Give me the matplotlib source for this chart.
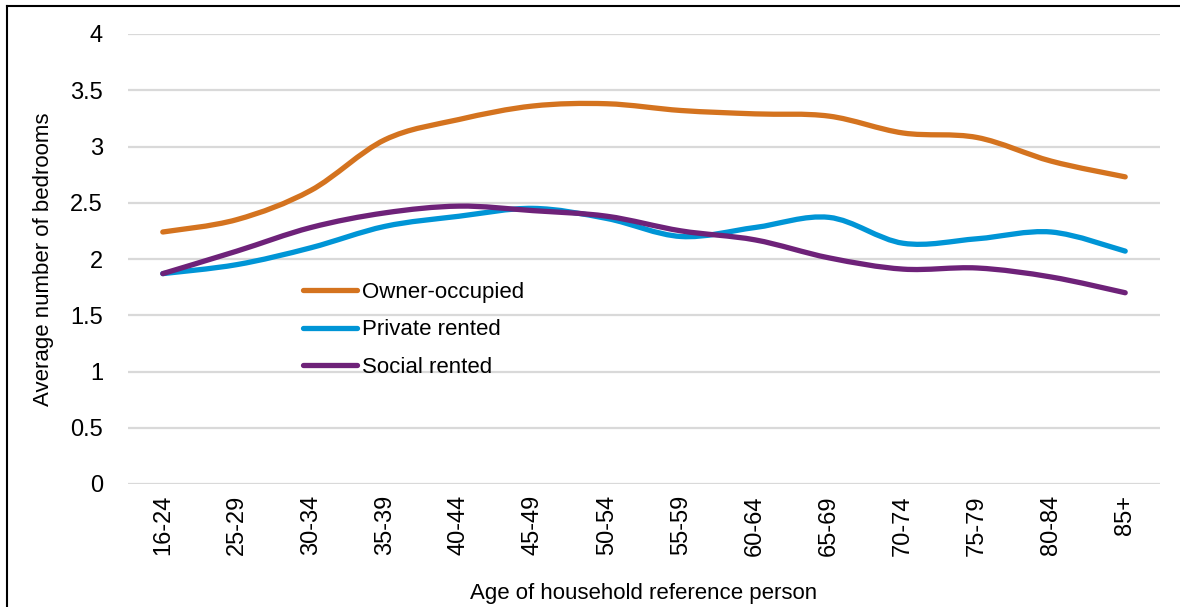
import matplotlib
matplotlib.use('Agg')
import matplotlib.pyplot as plt
from matplotlib.path import Path
from matplotlib.patches import PathPatch
from matplotlib.lines import Line2D
from matplotlib import font_manager
import numpy as np

age_groups = ['16-24', '25-29', '30-34', '35-39', '40-44', '45-49', '50-54',
              '55-59', '60-64', '65-69', '70-74', '75-79', '80-84', '85+']
owner_occupied = [2.24, 2.35, 2.61, 3.06, 3.24, 3.36, 3.38, 3.32, 3.29, 3.27, 3.12, 3.08, 2.87, 2.73]
private_rented = [1.87, 1.95, 2.10, 2.29, 2.38, 2.45, 2.36, 2.20, 2.28, 2.37, 2.14, 2.18, 2.24, 2.07]
social_rented = [1.87, 2.07, 2.28, 2.41, 2.47, 2.43, 2.38, 2.25, 2.17, 2.01, 1.91, 1.92, 1.84, 1.70]

series = [('Owner-occupied', owner_occupied, '#D4731F'),
          ('Private rented', private_rented, '#0095D6'),
          ('Social rented', social_rented, '#6E2279')]

installed = {f.name for f in font_manager.fontManager.ttflist}
fam = [f for f in ['Liberation Sans Narrow', 'Liberation Sans', 'DejaVu Sans'] if f in installed]
plt.rcParams['font.family'] = fam


def smooth_path(xs, ys, k=1.0 / 6):
    # Excel-style smoothed line: cubic Bezier through each point
    pts = np.column_stack([xs, ys]).astype(float)
    n = len(pts)
    verts = [pts[0]]
    codes = [Path.MOVETO]
    for i in range(n - 1):
        p0 = pts[i - 1] if i > 0 else pts[i]
        p1, p2 = pts[i], pts[i + 1]
        p3 = pts[i + 2] if i + 2 < n else pts[i + 1]
        c1 = p1 + (p2 - p0) * k
        c2 = p2 - (p3 - p1) * k
        verts += [c1, c2, p2]
        codes += [Path.CURVE4] * 3
    return Path(verts, codes)


fig = plt.figure(figsize=(11.8, 6.07), dpi=100)
ax = fig.add_axes([128 / 1180, 1 - 484 / 607, 1032 / 1180, 450 / 607])

x = np.arange(len(age_groups))
handles = []
for name, vals, col in series:
    patch = PathPatch(smooth_path(x, vals), facecolor='none', edgecolor=col,
                      linewidth=3.8, capstyle='round', joinstyle='round', zorder=3)
    ax.add_patch(patch)
    handles.append(Line2D([0], [0], color=col, linewidth=3.8, solid_capstyle='round', label=name))

ax.set_xlim(-0.47, len(age_groups) - 0.53)
ax.set_ylim(0, 4)
ax.set_yticks(np.arange(0, 4.01, 0.5))
ax.set_yticklabels(['0', '0.5', '1', '1.5', '2', '2.5', '3', '3.5', '4'])
ax.set_xticks(x)
ax.set_xticklabels(age_groups, rotation=90)
ax.tick_params(axis='both', length=0, labelsize=17)
ax.tick_params(axis='y', pad=18)
ax.tick_params(axis='x', pad=8)
ax.yaxis.grid(True, color='#d9d9d9', linewidth=1.6)
ax.set_axisbelow(True)
for s in ax.spines.values():
    s.set_visible(False)

ax.set_ylabel('Average number of bedrooms', fontsize=16, labelpad=12)
ax.set_xlabel('Age of household reference person', fontsize=16, labelpad=20)

ax.legend(handles=handles, loc='upper left', bbox_to_anchor=(0.159, 0.474), frameon=False,
          fontsize=16, handlelength=2.4, handletextpad=0.25, labelspacing=0.75, borderpad=0)

# frame around the chart (cropped at right and bottom)
fig.add_artist(Line2D([7 / 1180, 7 / 1180], [0, 1 - 6 / 607], color='black', linewidth=1.5))
fig.add_artist(Line2D([7 / 1180, 1], [1 - 6 / 607, 1 - 6 / 607], color='black', linewidth=1.5))

plt.savefig('out.png', dpi=100)
